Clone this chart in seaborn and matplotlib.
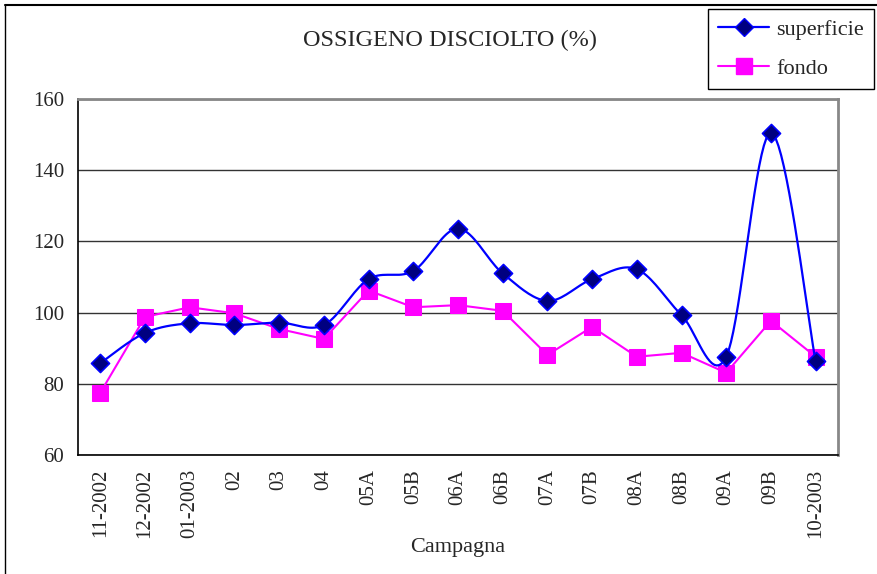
# coding:utf-8
# Ossigeno disciolto - superficie / fondo

import numpy as np
import pandas as pd
import matplotlib.pyplot as plt
import seaborn as sns
from matplotlib.lines import Line2D

sns.set_style("white")
plt.rcParams['font.family'] = ['Liberation Serif', 'DejaVu Serif']

campagne = ["11-2002", "12-2002", "01-2003", "02", "03", "04", "05A", "05B", "06A",
            "06B", "07A", "07B", "08A", "08B", "09A", "09B", "10-2003"]
superficie = [85.8, 94.3, 97.0, 96.5, 97.2, 96.5, 109.4, 111.7, 123.6,
              111.0, 103.3, 109.4, 112.2, 99.3, 87.6, 150.5, 86.3]
fondo = [77.5, 98.8, 101.5, 99.8, 95.4, 92.6, 106.2, 101.5, 102.1,
         100.5, 88.1, 96.0, 87.6, 88.7, 83.1, 97.7, 87.6]

BLU = "#0000FF"
NAVY = "#000080"
MAGENTA = "#FF00FF"


# linea smussata tipo Excel (Bezier / Catmull-Rom)
def smooth(x, y, n=20):
    p = np.column_stack([x, y]).astype(float)
    pts = []
    for i in range(len(p) - 1):
        p0 = p[i]
        p3 = p[i + 1]
        prev = p[i - 1] if i > 0 else p[i]
        nxt = p[i + 2] if i + 2 < len(p) else p[i + 1]
        p1 = p0 + (p3 - prev) / 6.0
        p2 = p3 - (nxt - p0) / 6.0
        t = np.linspace(0, 1, n)[:, None]
        seg = ((1 - t) ** 3) * p0 + 3 * ((1 - t) ** 2) * t * p1 + 3 * (1 - t) * t ** 2 * p2 + t ** 3 * p3
        pts.append(seg if i == 0 else seg[1:])
    pts = np.vstack(pts)
    return pts[:, 0], pts[:, 1]


xpos = np.arange(len(campagne))
df = pd.DataFrame({"x": xpos, "superficie": superficie, "fondo": fondo})
sx, sy = smooth(xpos, superficie)
df_s = pd.DataFrame({"x": sx, "y": sy})

fig = plt.figure(figsize=(8.77, 5.74), dpi=100)
ax = fig.add_axes([78 / 877, 1 - 455 / 574, 760 / 877, 356 / 574])

# fondo
sns.lineplot(data=df, x="x", y="fondo", ax=ax, color=MAGENTA, lw=1.5,
             marker="s", markersize=11, markerfacecolor=MAGENTA,
             markeredgecolor=MAGENTA, sort=False, zorder=3)
# superficie
sns.lineplot(data=df_s, x="x", y="y", ax=ax, color=BLU, lw=1.6, sort=False, zorder=4)
sns.scatterplot(data=df, x="x", y="superficie", ax=ax, marker="D", s=85,
                color=NAVY, edgecolor=BLU, linewidth=1.2, zorder=5)

ax.set_xlim(-0.5, len(campagne) - 0.5)
ax.set_ylim(60, 160)
ax.set_yticks([60, 80, 100, 120, 140, 160])
ax.set_yticklabels(["60", "80", "100", "120", "140", "160"], fontsize=15)
ax.yaxis.grid(True, color="#333333", lw=1)
ax.set_axisbelow(True)

ax.set_xticks(xpos)
ax.set_xticklabels(campagne, rotation=90, fontsize=15, va="top", ha="center")
ax.set_xticks(np.arange(-0.5, len(campagne)), minor=True)
ax.tick_params(axis="x", which="major", length=0, pad=10)
ax.tick_params(axis="x", which="minor", length=6, width=1, color="black", direction="out")
ax.tick_params(axis="y", length=6, width=1, color="black", direction="out", pad=4)

ax.set_xlabel("Campagna", fontsize=16, labelpad=0)
ax.set_ylabel("")

for s in ["left", "bottom"]:
    ax.spines[s].set_color("black")
    ax.spines[s].set_linewidth(1.2)
for s in ["top", "right"]:
    ax.spines[s].set_color("#888888")
    ax.spines[s].set_linewidth(2)

fig.text(450 / 877, 1 - 40 / 574, "OSSIGENO DISCIOLTO (%)", ha="center", va="center", fontsize=17.5)

# bordo esterno
fig.add_artist(Line2D([5 / 877, 5 / 877], [0, 1 - 5 / 574], color="black", lw=1))
fig.add_artist(Line2D([5 / 877, 1], [1 - 5 / 574, 1 - 5 / 574], color="black", lw=1.5))

handles = [
    Line2D([], [], color=BLU, lw=1.6, marker="D", markersize=9, markerfacecolor=NAVY, markeredgecolor=BLU),
    Line2D([], [], color=MAGENTA, lw=1.5, marker="s", markersize=11, markerfacecolor=MAGENTA, markeredgecolor=MAGENTA),
]
leg = fig.legend(handles, ["superficie", "fondo"], loc="upper left",
                 bbox_to_anchor=(708 / 877, 1 - 9 / 574), fontsize=16, frameon=True,
                 fancybox=False, edgecolor="black", framealpha=1, handlelength=2.3,
                 borderpad=0.45, labelspacing=0.85, handletextpad=0.3, borderaxespad=0)
leg.get_frame().set_linewidth(1)

plt.savefig("out.png", dpi=100)
